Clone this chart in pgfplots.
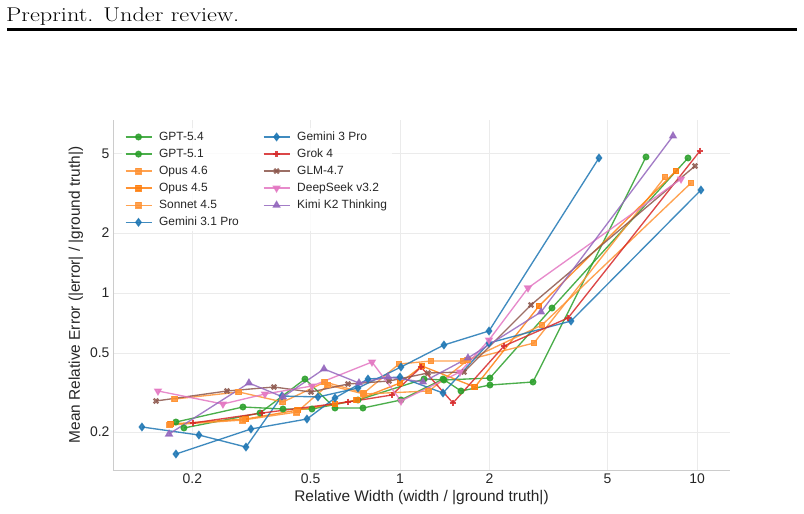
\documentclass[border=0pt]{standalone}
\usepackage{fontspec}
\setsansfont{Liberation Sans}
\usepackage{pgfplots}
\pgfplotsset{compat=1.18}
\definecolor{tblue}{HTML}{1F77B4}
\definecolor{torange}{HTML}{FF7F0E}
\definecolor{tgreen}{HTML}{2CA02C}
\definecolor{tred}{HTML}{D62728}
\definecolor{tpurple}{HTML}{9467BD}
\definecolor{tbrown}{HTML}{8C564B}
\definecolor{tpink}{HTML}{E377C2}
\definecolor{gridc}{HTML}{EBEBEB}
\definecolor{spinec}{HTML}{CCCCCC}
\begin{document}
\begin{tikzpicture}
\path (0bp,0bp) rectangle (804bp,-514bp);
\node[anchor=base west, font=\fontsize{20}{22}\selectfont, inner sep=0] at (6bp,-21bp) {\scalebox{1.22}[1]{Preprint. Under review.}};
\fill[black] (7bp,-28bp) rectangle (797bp,-31.2bp);
\begin{axis}[
  at={(113bp,-470bp)}, anchor=south west,
  scale only axis, width=617bp, height=350bp,
  xmode=log, ymode=log,
  xmin=0.1081, xmax=12.915, ymin=0.129, ymax=7.40,
  xtick={0.2,0.5,1,2,5,10}, xticklabels={0.2,0.5,1,2,5,10},
  ytick={0.2,0.5,1,2,5}, yticklabels={0.2,0.5,1,2,5},
  minor xtick={}, minor ytick={},
  axis x line*=bottom, axis y line*=left,
  axis line style={spinec, line width=0.8bp},
  major tick length=0pt,
  grid=major, major grid style={gridc, line width=0.8bp},
  tick label style={font=\sffamily\fontsize{14}{16}\selectfont, text=black!85},
  /pgf/number format/assume math mode=true,
  xlabel={Relative Width (width / |ground truth|)},
  ylabel={Mean Relative Error (|error| / |ground truth|)},
  label style={font=\sffamily\fontsize{15.5}{18}\selectfont, text=black!85},
  every axis plot/.append style={line width=1.35bp, opacity=0.85},
  legend cell align=left,
  legend columns=6, transpose legend,
  legend image code/.code={\draw[mark repeat=2,mark phase=2] plot coordinates {(0bp,0bp) (13bp,0bp) (26bp,0bp)};},
  legend style={at={(axis description cs:0.014,0.978)}, anchor=north west,
    draw=none, fill=white, fill opacity=0.8, text opacity=1,
    font=\sffamily\fontsize{12}{13}\selectfont, text=black!85,
    row sep=3bp,
    /tikz/every even column/.append style={column sep=22bp},
    /tikz/every odd column/.append style={column sep=5bp}},
]
% GPT-5.4
\addplot[color=tgreen, mark=*, mark size=2.8bp] coordinates {
(0.1761,0.2248) (0.2960,0.2674) (0.4036,0.2613) (0.5055,0.2613) (0.7223,0.2900)
(1.205,0.3697) (1.406,0.3654) (2.009,0.3740) (3.250,0.8407) (9.327,4.769)};
\addlegendentry{GPT-5.4}
% GPT-5.1
\addplot[color=tgreen, mark=*, mark size=2.8bp] coordinates {
(0.1874,0.2098) (0.3378,0.2494) (0.4787,0.3697) (0.6042,0.2643) (0.7506,0.2643)
(1.008,0.2900) (1.396,0.3697) (1.605,0.3218) (2.009,0.3449) (2.804,0.3571) (6.735,4.825)};
\addlegendentry{GPT-5.1}
% Opus 4.6
\addplot[color=torange!85, mark=square*, mark size=2.8bp] coordinates {
(0.1747,0.2934) (0.2870,0.3181) (0.4036,0.2833) (0.5591,0.3571) (0.7564,0.3145)
(0.9923,0.4397) (1.272,0.4552) (1.630,0.4552) (2.826,0.5607) (7.804,3.828)};
\addlegendentry{Opus 4.6}
% Opus 4.5
\addplot[color=torange, mark=square*, mark size=2.8bp] coordinates {
(0.1694,0.2197) (0.3030,0.2327) (0.4535,0.2583) (0.6042,0.2768) (0.7165,0.2900)
(1.000,0.3530) (1.186,0.4297) (1.788,0.3370) (2.938,0.8603) (8.497,4.103)};
\addlegendentry{Opus 4.5}
% Sonnet 4.5
\addplot[color=torange!85, mark=square*, mark size=2.8bp] coordinates {
(0.1681,0.2172) (0.2960,0.2300) (0.4499,0.2523) (0.5722,0.3449) (0.7564,0.3108)
(1.252,0.3218) (1.694,0.4606) (3.007,0.6907) (9.546,3.571)};
\addlegendentry{Sonnet 4.5}
% Gemini 3.1 Pro
\addplot[color=tblue, mark=diamond*, mark size=3.5bp] coordinates {
(0.1353,0.2122) (0.2104,0.1934) (0.3030,0.1683) (0.4005,0.3038) (0.5295,0.3003)
(0.7223,0.3332) (1.008,0.4247) (1.406,0.5479) (1.994,0.6442) (4.677,4.769)};
\addlegendentry{Gemini 3.1 Pro}
% Gemini 3 Pro
\addplot[color=tblue, mark=diamond*, mark size=3.5bp] coordinates {
(0.1761,0.1552) (0.3150,0.2073) (0.4862,0.2327) (0.6042,0.2968) (0.7804,0.3697)
(1.000,0.3784) (1.396,0.3145) (1.994,0.5607) (3.766,0.7232) (10.31,3.293)};
\addlegendentry{Gemini 3 Pro}
% Grok 4
\addplot[color=tred, mark=+, mark size=3.3bp, mark options={line width=2.3bp}] coordinates {
(0.2009,0.2222) (0.3430,0.2494) (0.6683,0.2833) (0.9399,0.3073) (1.177,0.4247)
(1.508,0.2801) (2.240,0.5416) (3.679,0.7486) (10.23,5.171)};
\addlegendentry{Grok 4}
% GLM-4.7
\addplot[color=tbrown, mark=x, mark size=3.3bp, mark options={line width=2.2bp}] coordinates {
(0.1509,0.2867) (0.2616,0.3218) (0.3765,0.3370) (0.5015,0.3181) (0.6683,0.3489)
(0.9182,0.3612) (1.242,0.3963) (1.642,0.4009) (2.761,0.8703) (9.847,4.347)};
\addlegendentry{GLM-4.7}
% DeepSeek v3.2
\addplot[color=tpink, mark=triangle*, mark size=3.6bp, mark options={rotate=180}] coordinates {
(0.1532,0.3218) (0.2535,0.2768) (0.3511,0.3108) (0.5055,0.3409) (0.8049,0.4501)
(1.008,0.2867) (1.592,0.4009) (1.994,0.5805) (2.698,1.060) (8.834,3.740)};
\addlegendentry{DeepSeek v3.2}
% Kimi K2 Thinking
\addplot[color=tpurple, mark=triangle*, mark size=3.6bp] coordinates {
(0.1669,0.1956) (0.3101,0.3530) (0.4036,0.3003) (0.5548,0.4150) (0.7278,0.3530)
(0.9112,0.3784) (1.195,0.3571) (1.694,0.4714) (2.984,0.8027) (8.302,6.150)};
\addlegendentry{Kimi K2 Thinking}
\end{axis}
\end{tikzpicture}
\end{document}
